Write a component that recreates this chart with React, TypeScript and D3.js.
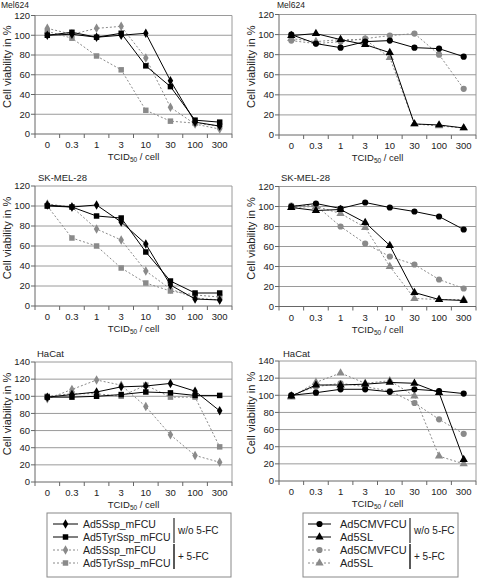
import React from "react";
import * as d3 from "d3";

const categories = ["0", "0.3", "1", "3", "10", "30", "100", "300"];
const leftNames = ["Ad5Ssp_mFCU", "Ad5TyrSsp_mFCU"];
const rightNames = ["Ad5CMVFCU", "Ad5SL"];
const conditionLabels = ["w/o 5-FC", "+ 5-FC"];
const panelTitles = ["Mel624", "Mel624", "SK-MEL-28", "SK-MEL-28", "HaCat", "HaCat"];
const yTicks120 = [0, 20, 40, 60, 80, 100, 120];
const yTicks140 = [0, 20, 40, 60, 80, 100, 120, 140];

// Mel624 left
const mel_Ssp_wo = [100, 101, 98, 100, 102, 54, 12, 8];
const mel_Tyr_wo = [100, 103, 98, 102, 69, 48, 14, 12];
const mel_Ssp_fc = [107, 101, 107, 109, 77, 27, 10, 5];
const mel_Tyr_fc = [104, 97, 79, 65, 24, 13, 11, 8];
// Mel624 right
const mel_CMV_wo = [100, 91, 87, 93, 94, 87, 86, 78];
const mel_SL_wo = [99, 101, 95, 90, 82, 11, 10, 7];
const mel_CMV_fc = [94, 91, 93, 96, 99, 101, 80, 46];
const mel_SL_fc = [96, 93, 95, 95, 77, 11, 9, 7];
// SK-MEL-28 left
const sk_Ssp_wo = [101, 99, 101, 84, 62, 21, 7, 6];
const sk_Tyr_wo = [100, 99, 90, 88, 54, 25, 13, 13];
const sk_Ssp_fc = [102, 99, 77, 66, 35, 17, 8, 6];
const sk_Tyr_fc = [100, 68, 60, 38, 23, 15, 11, 9];
// SK-MEL-28 right
const sk_CMV_wo = [100, 103, 98, 104, 99, 95, 90, 77];
const sk_SL_wo = [99, 96, 97, 84, 61, 14, 7, 6];
const sk_CMV_fc = [101, 101, 80, 63, 50, 42, 27, 18];
const sk_SL_fc = [99, 100, 93, 79, 40, 8, 7, 7];
// HaCat left
const ha_Ssp_wo = [99, 102, 105, 111, 112, 115, 106, 83];
const ha_Tyr_wo = [99, 99, 100, 102, 105, 104, 101, 101];
const ha_Ssp_fc = [97, 108, 119, 113, 88, 55, 31, 23];
const ha_Tyr_fc = [100, 103, 103, 100, 113, 99, 99, 41];
// HaCat right
const ha_CMV_wo = [100, 103, 107, 107, 104, 107, 105, 102];
const ha_SL_wo = [99, 112, 112, 113, 115, 114, 103, 25];
const ha_CMV_fc = [100, 110, 114, 110, 105, 91, 72, 55];
const ha_SL_fc = [98, 115, 126, 114, 117, 99, 29, 20];

const FONT = "'Liberation Sans', Arial, Helvetica, sans-serif";
const GRAY = "#8a8a8a";
const TXT = "#222";

type Series = { values: number[]; symbol: d3.SymbolType; dotted: boolean };

function mk(values: number[], symbol: d3.SymbolType, dotted: boolean): Series {
  return { values, symbol, dotted };
}

const layout = [
  { x0: 35, x1: 232, yT: 15.5, yB: 134, ticks: yTicks120, titleX: 1, titleY: 8, titleSize: 8.5 },
  { x0: 279, x1: 476, yT: 14.5, yB: 135, ticks: yTicks120, titleX: 277, titleY: 8, titleSize: 8.5 },
  { x0: 35, x1: 232, yT: 186, yB: 306, ticks: yTicks120, titleX: 38, titleY: 181, titleSize: 9.5 },
  { x0: 279, x1: 476, yT: 186.5, yB: 306.5, ticks: yTicks120, titleX: 281, titleY: 181, titleSize: 9.5 },
  { x0: 35, x1: 232, yT: 362, yB: 482, ticks: yTicks140, titleX: 37, titleY: 357, titleSize: 9.5 },
  { x0: 279, x1: 476, yT: 361, yB: 481, ticks: yTicks140, titleX: 283, titleY: 357, titleSize: 9.5 },
];

const panelSeries: Series[][] = [
  [mk(mel_Ssp_fc, d3.symbolDiamond, true), mk(mel_Tyr_fc, d3.symbolSquare, true), mk(mel_Ssp_wo, d3.symbolDiamond, false), mk(mel_Tyr_wo, d3.symbolSquare, false)],
  [mk(mel_CMV_fc, d3.symbolCircle, true), mk(mel_SL_fc, d3.symbolTriangle, true), mk(mel_CMV_wo, d3.symbolCircle, false), mk(mel_SL_wo, d3.symbolTriangle, false)],
  [mk(sk_Ssp_fc, d3.symbolDiamond, true), mk(sk_Tyr_fc, d3.symbolSquare, true), mk(sk_Ssp_wo, d3.symbolDiamond, false), mk(sk_Tyr_wo, d3.symbolSquare, false)],
  [mk(sk_CMV_fc, d3.symbolCircle, true), mk(sk_SL_fc, d3.symbolTriangle, true), mk(sk_CMV_wo, d3.symbolCircle, false), mk(sk_SL_wo, d3.symbolTriangle, false)],
  [mk(ha_Ssp_fc, d3.symbolDiamond, true), mk(ha_Tyr_fc, d3.symbolSquare, true), mk(ha_Ssp_wo, d3.symbolDiamond, false), mk(ha_Tyr_wo, d3.symbolSquare, false)],
  [mk(ha_CMV_fc, d3.symbolCircle, true), mk(ha_SL_fc, d3.symbolTriangle, true), mk(ha_CMV_wo, d3.symbolCircle, false), mk(ha_SL_wo, d3.symbolTriangle, false)],
];

function symSize(s: d3.SymbolType) {
  if (s === d3.symbolDiamond) return 26;
  if (s === d3.symbolSquare) return 30;
  if (s === d3.symbolCircle) return 30;
  return 30;
}

function Panel({ idx }: { idx: number }) {
  const L = layout[idx];
  const maxY = L.ticks[L.ticks.length - 1];
  const x = d3.scaleBand<string>().domain(categories).range([L.x0, L.x1]);
  const y = d3.scaleLinear().domain([0, maxY]).range([L.yB, L.yT]);
  const line = d3
    .line<number>()
    .x((_, i) => (x(categories[i]) as number) + x.bandwidth() / 2)
    .y((v) => y(v));
  const bounds = categories.map((c) => x(c) as number).concat([L.x1]);
  return (
    <g>
      <text x={L.titleX} y={L.titleY} fontSize={L.titleSize} fontFamily={FONT} fill={TXT}>
        {panelTitles[idx]}
      </text>
      {L.ticks.map((t) => (
        <g key={t}>
          {t > 0 && <line x1={L.x0} x2={L.x1} y1={y(t)} y2={y(t)} stroke="#9a9a9a" strokeWidth={1} />}
          <line x1={L.x0 - 4} x2={L.x0} y1={y(t)} y2={y(t)} stroke="#666" strokeWidth={1} />
          <text x={L.x0 - 5} y={y(t)} dy="0.35em" textAnchor="end" fontSize={9.5} fontFamily={FONT} fill={TXT}>
            {t}
          </text>
        </g>
      ))}
      <line x1={L.x1} x2={L.x1} y1={L.yT} y2={L.yB} stroke="#9a9a9a" strokeWidth={1} />
      <line x1={L.x0} x2={L.x0} y1={L.yT} y2={L.yB} stroke="#666" strokeWidth={1} />
      <line x1={L.x0} x2={L.x1} y1={L.yB} y2={L.yB} stroke="#666" strokeWidth={1} />
      {bounds.map((b, i) => (
        <line key={i} x1={b} x2={b} y1={L.yB} y2={L.yB + 4} stroke="#666" strokeWidth={1} />
      ))}
      {categories.map((c) => (
        <text
          key={c}
          x={(x(c) as number) + x.bandwidth() / 2}
          y={L.yB + 14}
          textAnchor="middle"
          fontSize={9.5}
          fontFamily={FONT}
          fill={TXT}
        >
          {c}
        </text>
      ))}
      <text x={(L.x0 + L.x1) / 2} y={L.yB + 26} textAnchor="middle" fontSize={9.5} fontFamily={FONT} fill={TXT}>
        TCID
        <tspan fontSize={6.5} dy={2}>50</tspan>
        <tspan dy={-2}> / cell</tspan>
      </text>
      <text
        transform={`translate(${L.x0 - 24},${(L.yT + L.yB) / 2 - 8}) rotate(-90)`}
        textAnchor="middle"
        fontSize={11}
        fontFamily={FONT}
        fill={TXT}
      >
        Cell viability in %
      </text>
      {panelSeries[idx].map((s, si) => {
        const col = s.dotted ? GRAY : "#000";
        return (
          <g key={si}>
            <path
              d={line(s.values) || ""}
              fill="none"
              stroke={col}
              strokeWidth={1}
              strokeDasharray={s.dotted ? "2,2" : undefined}
            />
            {s.values.map((v, i) => (
              <path
                key={i}
                transform={`translate(${(x(categories[i]) as number) + x.bandwidth() / 2},${y(v)})`}
                d={d3.symbol().type(s.symbol).size(symSize(s.symbol))() || ""}
                fill={col}
              />
            ))}
          </g>
        );
      })}
    </g>
  );
}

function Legend({ left, names, symbols }: { left: number; names: string[]; symbols: d3.SymbolType[] }) {
  const isLeft = left < 200;
  const width = isLeft ? 184 : 155;
  const top = 513;
  const bottom = 577;
  const rows = [524, 537, 550, 563];
  const lx0 = left + (isLeft ? 6 : 5);
  const lx1 = left + (isLeft ? 31 : 28);
  const tx = left + (isLeft ? 36 : 37);
  const barX = left + (isLeft ? 127 : 107);
  const items = [
    { name: names[0], sym: symbols[0], dotted: false },
    { name: names[1], sym: symbols[1], dotted: false },
    { name: names[0], sym: symbols[0], dotted: true },
    { name: names[1], sym: symbols[1], dotted: true },
  ];
  return (
    <g>
      <rect x={left} y={top} width={width} height={bottom - top} fill="#fff" stroke="#888" strokeWidth={1} />
      {items.map((it, i) => {
        const col = it.dotted ? GRAY : "#000";
        return (
          <g key={i}>
            <line x1={lx0} x2={lx1} y1={rows[i]} y2={rows[i]} stroke={col} strokeWidth={1} strokeDasharray={it.dotted ? "2,2" : undefined} />
            <path
              transform={`translate(${(lx0 + lx1) / 2},${rows[i]})`}
              d={d3.symbol().type(it.sym).size(symSize(it.sym))() || ""}
              fill={col}
            />
            <text x={tx} y={rows[i]} dy="0.35em" fontSize={isLeft ? 10.5 : 11} fontFamily={FONT} fill={TXT}>
              {it.name}
            </text>
          </g>
        );
      })}
      <line x1={barX} x2={barX} y1={rows[0] - 6} y2={rows[1] + 6} stroke="#555" strokeWidth={1.5} />
      <line x1={barX} x2={barX} y1={rows[2] - 6} y2={rows[3] + 6} stroke="#222" strokeWidth={1.5} />
      <text x={barX + 4} y={(rows[0] + rows[1]) / 2} dy="0.35em" fontSize={10} fontFamily={FONT} fill={TXT}>
        {conditionLabels[0]}
      </text>
      <text x={barX + 4} y={(rows[2] + rows[3]) / 2} dy="0.35em" fontSize={10} fontFamily={FONT} fill={TXT}>
        {conditionLabels[1]}
      </text>
    </g>
  );
}

export default function App() {
  return (
    <svg
      width={478}
      height={584}
      style={{ position: "absolute", left: 0, top: 0, background: "#fff" }}
    >
      <rect width={478} height={584} fill="#fff" />
      {layout.map((_, i) => (
        <Panel key={i} idx={i} />
      ))}
      <Legend left={47} names={leftNames} symbols={[d3.symbolDiamond, d3.symbolSquare]} />
      <Legend left={303} names={rightNames} symbols={[d3.symbolCircle, d3.symbolTriangle]} />
    </svg>
  );
}
